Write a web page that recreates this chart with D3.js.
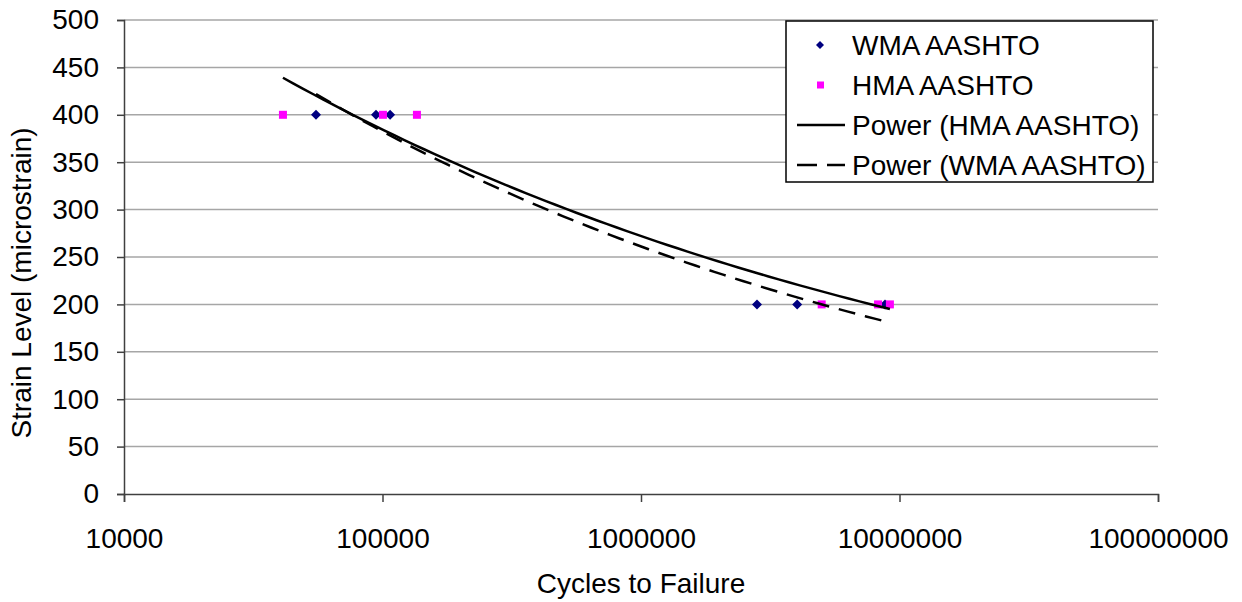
<!DOCTYPE html>
<html>
<head>
<meta charset="utf-8">
<script src="https://cdn.jsdelivr.net/npm/d3@7"></script>
<style>
  body { margin: 0; background: #fff; }
  svg text { font-family: "Liberation Sans", Arial, sans-serif; fill: #000; }
</style>
</head>
<body>
<div id="chart"></div>
<script>
// Data
const wmaCycles = [55300, 94400, 107000, 2810000, 4020000, 8790000];
const wmaStrain = [400, 400, 400, 200, 200, 200];
const hmaCycles = [41200, 100400, 135900, 5000000, 8260000, 9180000];
const hmaStrain = [400, 400, 400, 200, 200, 200];

const yTicks = [0, 50, 100, 150, 200, 250, 300, 350, 400, 450, 500];
const xTicks = [10000, 100000, 1000000, 10000000, 100000000];

const legendLabels = ['WMA AASHTO', 'HMA AASHTO', 'Power (HMA AASHTO)', 'Power (WMA AASHTO)'];

const width = 1242, height = 602;
const plot = { left: 124, right: 1158, top: 20, bottom: 494 };
const fontSize = 28;

const svg = d3.select('#chart').append('svg')
  .attr('width', width)
  .attr('height', height);

const x = d3.scaleLog().domain([1e4, 1e8]).range([plot.left, plot.right]);
const y = d3.scaleLinear().domain([0, 500]).range([plot.bottom, plot.top]);

// Gridlines
svg.append('g')
  .selectAll('line')
  .data(yTicks.filter(d => d > 0))
  .join('line')
  .attr('x1', plot.left).attr('x2', plot.right)
  .attr('y1', d => y(d)).attr('y2', d => y(d))
  .attr('stroke', '#a6a6a6')
  .attr('stroke-width', 1.5);

// Axes
const yAxis = svg.append('g')
  .attr('transform', `translate(${plot.left},0)`)
  .call(d3.axisLeft(y).tickValues(yTicks).tickSize(7).tickPadding(18).tickFormat(d3.format('d')));
const xAxis = svg.append('g')
  .attr('transform', `translate(0,${plot.bottom})`)
  .call(d3.axisBottom(x).tickValues(xTicks).tickSize(8).tickPadding(26).tickFormat(d3.format('d')));

[yAxis, xAxis].forEach(g => {
  g.select('.domain').attr('stroke', '#404040').attr('stroke-width', 1.5);
  g.selectAll('.tick line').attr('stroke', '#404040').attr('stroke-width', 1.5);
  g.selectAll('.tick text')
    .attr('font-family', '"Liberation Sans", Arial, sans-serif')
    .attr('font-size', fontSize)
    .attr('fill', '#000');
});

// Axis titles
svg.append('text')
  .attr('x', (plot.left + plot.right) / 2)
  .attr('y', 593)
  .attr('text-anchor', 'middle')
  .attr('font-size', fontSize)
  .text('Cycles to Failure');

svg.append('text')
  .attr('transform', `translate(31,283) rotate(-90)`)
  .attr('text-anchor', 'middle')
  .attr('font-size', fontSize)
  .text('Strain Level (microstrain)');

// Power trendline: least squares on ln(x), ln(y)
function powerFit(xs, ys) {
  const lx = xs.map(Math.log), ly = ys.map(Math.log);
  const mx = d3.mean(lx), my = d3.mean(ly);
  const b = d3.sum(lx, (v, i) => (v - mx) * (ly[i] - my)) / d3.sum(lx, v => (v - mx) ** 2);
  const a = Math.exp(my - b * mx);
  const lo = d3.min(xs), hi = d3.max(xs);
  return d3.range(0, 61).map(i => {
    const xv = lo * Math.pow(hi / lo, i / 60);
    return [xv, a * Math.pow(xv, b)];
  });
}

const line = d3.line().x(d => x(d[0])).y(d => y(d[1]));

// Markers
const wmaPts = wmaCycles.map((c, i) => [c, wmaStrain[i]]);
const hmaPts = hmaCycles.map((c, i) => [c, hmaStrain[i]]);

const diamond = s => `M0,${-s}L${s},0L0,${s}L${-s},0Z`;

svg.append('g')
  .selectAll('path')
  .data(wmaPts)
  .join('path')
  .attr('d', diamond(5))
  .attr('transform', d => `translate(${x(d[0])},${y(d[1])})`)
  .attr('fill', '#000080');

svg.append('g')
  .selectAll('rect')
  .data(hmaPts)
  .join('rect')
  .attr('x', d => x(d[0]) - 4)
  .attr('y', d => y(d[1]) - 4)
  .attr('width', 8)
  .attr('height', 8)
  .attr('fill', '#ff00ff');

// Trendlines drawn on top
svg.append('path')
  .datum(powerFit(wmaCycles, wmaStrain))
  .attr('d', line)
  .attr('fill', 'none')
  .attr('stroke', '#000')
  .attr('stroke-width', 2.5)
  .attr('stroke-dasharray', '17,10');

svg.append('path')
  .datum(powerFit(hmaCycles, hmaStrain))
  .attr('d', line)
  .attr('fill', 'none')
  .attr('stroke', '#000')
  .attr('stroke-width', 2.5);

// Legend
const legend = svg.append('g').attr('transform', 'translate(786,21)');
legend.append('rect')
  .attr('width', 367).attr('height', 161)
  .attr('fill', '#fff')
  .attr('stroke', '#000')
  .attr('stroke-width', 1.5);

const rowY = i => 24 + i * 40;
legendLabels.forEach((label, i) => {
  const g = legend.append('g').attr('transform', `translate(0,${rowY(i)})`);
  if (i === 0) {
    g.append('path').attr('d', diamond(4)).attr('transform', 'translate(34,0)').attr('fill', '#000080');
  } else if (i === 1) {
    g.append('rect').attr('x', 31).attr('y', -3.5).attr('width', 7).attr('height', 7).attr('fill', '#ff00ff');
  } else {
    g.append('line')
      .attr('x1', 11).attr('x2', 59)
      .attr('stroke', '#000').attr('stroke-width', 2.5)
      .attr('stroke-dasharray', i === 3 ? '20,10' : null);
  }
  g.append('text')
    .attr('x', 66)
    .attr('dy', '0.35em')
    .attr('font-size', fontSize)
    .text(label);
});
</script>
</body>
</html>
